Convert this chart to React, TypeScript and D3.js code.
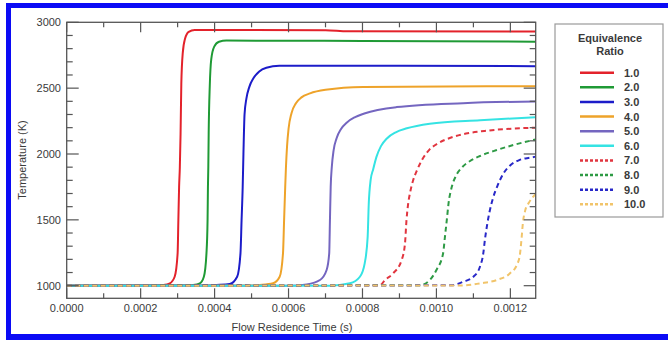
import React from "react";
import * as d3 from "d3";

// Flow residence time (s) vs temperature (K) per equivalence ratio
const phiLabels = ["1.0", "2.0", "3.0", "4.0", "5.0", "6.0", "7.0", "8.0", "9.0", "10.0"];
const xTicks = [0, 0.0002, 0.0004, 0.0006, 0.0008, 0.001, 0.0012];
const yTicks = [1000, 1500, 2000, 2500, 3000];

const phi1: [number, number][] = [
  [0, 1000], [0.00024, 1001], [0.000261, 1005], [0.000279, 1018], [0.000292, 1068], [0.0003, 1245],
  [0.000302, 1498], [0.000304, 1750], [0.000306, 1900], [0.000308, 2155], [0.00031, 2533],
  [0.000314, 2770], [0.00032, 2875], [0.00033, 2928], [0.000346, 2942], [0.0007, 2940],
  [0.00076, 2932], [0.0012685, 2930],
];
const phi2: [number, number][] = [
  [0, 1000], [0.00032, 1001], [0.000342, 1005], [0.00036, 1018], [0.000371, 1068], [0.000378, 1245],
  [0.000381, 1498], [0.000382, 1750], [0.000383, 1900], [0.000384, 2155], [0.000387, 2520],
  [0.000391, 2720], [0.000399, 2815], [0.000412, 2852], [0.000432, 2861], [0.0008, 2858],
  [0.0012685, 2853],
];
const phi3: [number, number][] = [
  [0, 1000], [0.00038, 1001], [0.000405, 1005], [0.000441, 1013], [0.000461, 1068], [0.00047, 1245],
  [0.000473, 1498], [0.000476, 1750], [0.000478, 2000], [0.000481, 2300], [0.000486, 2420],
  [0.000494, 2510], [0.000505, 2575], [0.00052, 2625], [0.00054, 2655], [0.000575, 2670],
  [0.0009, 2670], [0.0012685, 2667],
];
const phi4: [number, number][] = [
  [0, 1000], [0.0005, 1001], [0.000522, 1005], [0.000558, 1018], [0.000576, 1068], [0.000585, 1245],
  [0.000588, 1498], [0.000591, 1750], [0.000593, 1900], [0.000596, 2060], [0.0006, 2190],
  [0.000608, 2310], [0.00062, 2385], [0.000635, 2430], [0.000658, 2460], [0.0007, 2487],
  [0.000802, 2508], [0.0012685, 2515],
];
const phi5: [number, number][] = [
  [0, 1000], [0.000604, 1000], [0.000649, 1010], [0.000685, 1043], [0.000703, 1119], [0.00071, 1245],
  [0.000712, 1498], [0.000714, 1750], [0.000717, 1900], [0.000722, 2030], [0.00073, 2120],
  [0.000742, 2190], [0.000758, 2240], [0.00078, 2280], [0.000805, 2308], [0.000892, 2356],
  [0.001072, 2386], [0.0012685, 2399],
];
const phi6: [number, number][] = [
  [0, 1000], [0.000712, 1000], [0.000766, 1018], [0.000793, 1068], [0.000806, 1170], [0.000814, 1371],
  [0.000817, 1624], [0.000822, 1801], [0.000829, 1885], [0.000838, 1980], [0.00085, 2060],
  [0.000866, 2118], [0.00089, 2165], [0.00092, 2195], [0.000982, 2230], [0.001118, 2257],
  [0.0012685, 2280],
];
const phi7: [number, number][] = [
  [0, 1000], [0.000847, 1003], [0.000861, 1043], [0.000883, 1094], [0.000906, 1195], [0.000915, 1321],
  [0.000919, 1498], [0.000923, 1610], [0.000929, 1710], [0.000937, 1800], [0.000948, 1880],
  [0.000962, 1960], [0.00098, 2030], [0.001005, 2082], [0.00104, 2125], [0.00108, 2155],
  [0.00113, 2175], [0.0012685, 2200],
];
const phi8: [number, number][] = [
  [0, 1000], [0.000955, 1004], [0.000982, 1043], [0.001, 1119], [0.001018, 1245], [0.001023, 1371],
  [0.001028, 1498], [0.001033, 1630], [0.001041, 1745], [0.001052, 1830], [0.001068, 1895],
  [0.00109, 1945], [0.001118, 1985], [0.001163, 2030], [0.001208, 2068], [0.001253, 2100],
  [0.0012685, 2110],
];
const phi9: [number, number][] = [
  [0, 1000], [0.00104, 1003], [0.0010726, 1030], [0.0011, 1068], [0.0011177, 1144], [0.0011267, 1245],
  [0.001131, 1346], [0.001137, 1460], [0.001144, 1565], [0.001153, 1665], [0.001166, 1765],
  [0.001182, 1855], [0.0012, 1915], [0.001225, 1955], [0.001253, 1972], [0.0012685, 1980],
];
const phi10: [number, number][] = [
  [0, 1000], [0.001072, 1002], [0.001118, 1018], [0.001163, 1043], [0.001199, 1094], [0.001218, 1160],
  [0.001226, 1240], [0.00123, 1350], [0.001234, 1480], [0.00124, 1570], [0.00125, 1630],
  [0.00126, 1670], [0.0012685, 1695],
];

const series = [phi1, phi2, phi3, phi4, phi5, phi6, phi7, phi8, phi9, phi10];
const colors = [
  "#e3222b", "#1f9a35", "#1c1cc9", "#eea32a", "#7466c0", "#35e3e3",
  "#e1353f", "#2e9a45", "#2828c8", "#f1c46a",
];
const dashed = [false, false, false, false, false, false, true, true, true, true];

export default function App() {
  const W = 668, H = 340;
  const left = 66.7, right = 535.7, top = 22.3, bottom = 298.3;
  const x = d3.scaleLinear().domain([0, 0.0012685]).range([left, right]);
  const y = d3.scaleLinear().domain([904.3, 3000]).range([bottom, top]);
  const line = d3.line<[number, number]>()
    .x((d) => x(d[0]))
    .y((d) => y(d[1]))
    .curve(d3.curveMonotoneX);

  const xMinor = d3.range(1, 13, 2).map((i) => i * 0.0001);
  const yMinor = d3.range(1000, 3001, 100).filter((v) => v % 500 !== 0);
  const axisColor = "#555";
  const font = "Liberation Sans, Arial, Helvetica, sans-serif";
  const textColor = "#3a3a3a";

  const legX = 555, legY = 24, legW = 108, legH = 193;
  const rowY0 = 72.7, rowDy = 14.62;

  return (
    <svg width={W} height={H} style={{ position: "absolute", left: 0, top: 0, background: "#fff" }}
      fontFamily={font}>
      <rect x={0} y={0} width={W} height={H} fill="#fff" />
      {/* blue frame */}
      <rect x={6} y={3} width={W - 6} height={5} fill="#0b0bf5" />
      <rect x={6} y={3} width={5} height={H - 3} fill="#0b0bf5" />
      <rect x={6} y={334} width={W - 6} height={6} fill="#0b0bf5" />

      <defs>
        <clipPath id="plotclip">
          <rect x={left} y={top} width={right - left} height={bottom - top} />
        </clipPath>
      </defs>

      {/* curves */}
      <g clipPath="url(#plotclip)">
        {series.map((s, i) => (
          <path key={i} d={line(s) || ""} fill="none" stroke={colors[i]} strokeWidth={2}
            strokeDasharray={dashed[i] ? "5,3.5" : undefined} />
        ))}
      </g>

      {/* frame */}
      <rect x={left} y={top} width={right - left} height={bottom - top} fill="none" stroke={axisColor} strokeWidth={1.3} />

      {/* x ticks bottom & top */}
      {xTicks.map((t, i) => (
        <g key={"xt" + i}>
          <line x1={x(t)} x2={x(t)} y1={bottom} y2={bottom - 10} stroke={axisColor} strokeWidth={1.2} />
          <line x1={x(t)} x2={x(t)} y1={top} y2={top + 10} stroke={axisColor} strokeWidth={1.2} />
          <text x={x(t)} y={312} textAnchor="middle" fontSize={11} fill={textColor}>{d3.format(".4f")(t)}</text>
        </g>
      ))}
      {xMinor.map((t, i) => (
        <g key={"xm" + i}>
          <line x1={x(t)} x2={x(t)} y1={bottom} y2={bottom - 5} stroke={axisColor} strokeWidth={1.2} />
          <line x1={x(t)} x2={x(t)} y1={top} y2={top + 5} stroke={axisColor} strokeWidth={1.2} />
        </g>
      ))}

      {/* y ticks left & right */}
      {yTicks.map((v, i) => (
        <g key={"yt" + i}>
          <line x1={left} x2={left + 12} y1={y(v)} y2={y(v)} stroke={axisColor} strokeWidth={1.2} />
          <line x1={right} x2={right - 12} y1={y(v)} y2={y(v)} stroke={axisColor} strokeWidth={1.2} />
          <text x={61} y={y(v) + 4} textAnchor="end" fontSize={11} fill={textColor}>{v}</text>
        </g>
      ))}
      {yMinor.map((v, i) => (
        <g key={"ym" + i}>
          <line x1={left} x2={left + 6} y1={y(v)} y2={y(v)} stroke={axisColor} strokeWidth={1.2} />
          <line x1={right} x2={right - 6} y1={y(v)} y2={y(v)} stroke={axisColor} strokeWidth={1.2} />
        </g>
      ))}

      {/* axis titles */}
      <text x={292} y={330.5} textAnchor="middle" fontSize={11} fill={textColor}>Flow Residence Time (s)</text>
      <text transform={`translate(25.5,160) rotate(-90)`} textAnchor="middle" fontSize={11} fill={textColor}>Temperature (K)</text>

      {/* legend */}
      <rect x={legX} y={legY} width={legW} height={legH} fill="#fff" stroke="#9a9a9a" strokeWidth={1.2} />
      <text x={610} y={41.5} textAnchor="middle" fontSize={11} fontWeight="bold" fill={textColor}>Equivalence</text>
      <text x={610} y={54.5} textAnchor="middle" fontSize={11} fontWeight="bold" fill={textColor}>Ratio</text>
      {phiLabels.map((lab, i) => {
        const yy = rowY0 + i * rowDy;
        return (
          <g key={"lg" + i}>
            <line x1={580} x2={614} y1={yy} y2={yy} stroke={colors[i]} strokeWidth={2.5}
              strokeDasharray={dashed[i] ? "3,2" : undefined} />
            <text x={624} y={yy + 4} fontSize={11} fontWeight="bold" fill={textColor}>{lab}</text>
          </g>
        );
      })}
    </svg>
  );
}
